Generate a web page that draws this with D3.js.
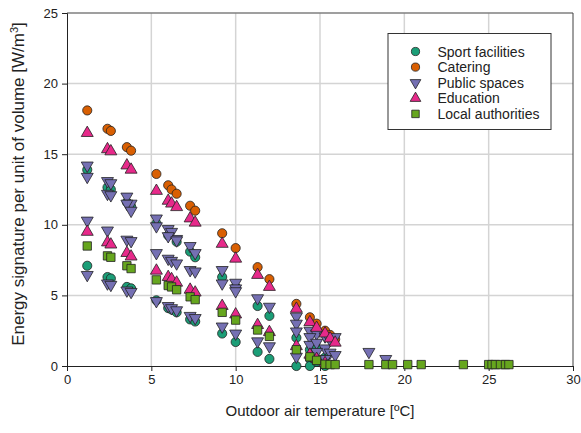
<!DOCTYPE html>
<html><head><meta charset="utf-8">
<script src="https://cdn.jsdelivr.net/npm/d3@7"></script>
<style>body{margin:0;background:#fff;}svg{display:block;font-family:"Liberation Sans",Arial,sans-serif;}</style>
</head><body><svg id="chart" width="581" height="433"></svg>
<script>
const xTicks = [0, 5, 10, 15, 20, 25, 30];
const yTicks = [0, 5, 10, 15, 20, 25];
const seriesNames = ["Sport facilities", "Catering", "Public spaces", "Education", "Local authorities"];

const sportFacilities = [
  [1.2,13.9],[2.4,12.65],[2.6,12.5],[3.55,11.6],[3.8,11.3],[5.3,10.1],[6.0,9.25],[6.5,8.8],[7.3,8.1],[7.6,7.7],
  [9.2,6.3],[10.0,5.6],[11.3,4.25],[12.0,3.55],[13.6,2.0],[14.4,1.15],[14.8,1.25],[15.3,0.6],
  [1.2,7.1],[2.4,6.3],[2.6,6.2],[3.55,5.6],[3.8,5.5],[5.3,4.65],[6.0,4.1],[6.2,4.0],[6.5,3.8],[7.3,3.3],[7.6,3.15],
  [9.2,2.3],[10.0,1.7],[11.3,1.0],[12.0,0.5],[13.6,0.0],[14.4,0.5],[14.4,0.0],[14.8,0.3],[15.3,0.0]
];
const catering = [
  [1.2,18.1],[2.4,16.8],[2.6,16.65],[3.55,15.5],[3.8,15.25],[5.3,13.6],[6.0,12.8],[6.2,12.5],[6.5,12.2],[7.3,11.35],
  [7.6,11.0],[9.2,9.4],[10.0,8.35],[11.3,7.0],[12.0,6.15],[13.6,4.4],[14.4,3.45],[14.8,3.0],[15.3,2.5],[15.6,2.2],[15.9,1.9]
];
const publicSpaces = [
  [1.2,14.2],[2.4,13.1],[2.6,12.95],[3.55,12.0],[3.8,11.5],[5.3,10.45],[6.0,9.7],[6.2,9.5],[6.5,9.0],[7.3,8.5],[7.6,8.0],
  [9.2,6.8],[10.0,5.9],[11.3,4.8],[12.0,4.2],[13.6,3.5],[14.4,2.5],[14.8,2.3],[15.3,2.1],[15.6,1.85],[15.9,2.05],
  [1.2,13.4],[2.4,12.2],[2.6,12.1],[3.55,11.5],[3.8,11.0],[5.3,9.9],[6.0,9.2],[6.5,8.9],[9.2,5.85],[10.0,5.5],[10.0,5.3],[13.6,3.0],[14.4,2.05],
  [1.2,10.3],[2.4,9.6],[3.55,8.95],[3.8,8.85],[5.3,8.0],[6.0,7.6],[6.2,7.45],[6.5,7.27],[7.3,6.8],[7.6,6.7],[13.6,2.45],[14.4,1.5],[14.8,1.65],[15.3,1.25],[15.6,0.95],[15.9,0.78],
  [1.2,6.45],[2.4,5.85],[2.6,5.75],[3.55,5.35],[3.8,5.25],[5.3,4.6],[6.0,4.25],[6.2,4.1],[6.5,3.95],[7.3,3.55],[7.6,3.4],
  [9.2,2.8],[10.0,2.3],[11.3,1.75],[12.0,1.4],[13.6,0.66],[14.8,1.0],[15.3,0.5],[17.9,1.0],[18.9,0.5]
];
const education = [
  [1.2,16.5],[2.4,15.35],[2.6,15.2],[3.55,14.2],[3.8,13.9],[5.3,12.4],[6.0,11.7],[6.2,11.5],[6.5,11.25],[7.3,10.45],[7.6,10.15],
  [9.2,8.65],[10.0,7.6],[11.3,6.45],[12.0,5.6],[13.6,4.05],[14.4,3.1],[14.8,2.7],[15.3,2.3],[15.6,1.95],[15.9,1.65],
  [1.2,9.5],[2.4,8.75],[2.6,8.6],[3.55,8.0],[3.8,7.75],[5.3,6.75],[6.0,6.3],[6.2,6.15],[6.5,5.9],[7.3,5.4],[7.6,5.2],
  [9.2,4.25],[10.0,3.65],[11.3,2.9],[12.0,2.4],[13.6,1.4],[14.4,0.8],[14.8,0.5],[15.3,0.2]
];
const localAuthorities = [
  [1.2,8.5],[2.4,7.8],[2.6,7.7],[3.55,7.1],[3.8,6.9],[5.3,6.1],[6.0,5.7],[6.2,5.6],[6.5,5.4],[7.3,4.9],[7.6,4.7],
  [9.2,3.8],[10.0,3.25],[11.3,2.55],[12.0,2.1],[13.6,1.15],[14.4,0.65],[14.8,0.4],[15.3,0.12],[15.6,0.1],[15.9,0.1],
  [17.9,0.1],[18.9,0.1],[19.3,0.1],[20.2,0.1],[21.0,0.1],[23.5,0.1],[25.0,0.1],[25.2,0.1],[25.4,0.1],[25.7,0.1],[26.0,0.1],[26.2,0.1]
];

const colors = ["#1b9e77", "#d95f02", "#7570b3", "#e7298a", "#66a61e"];
const symbols = [d3.symbolCircle, d3.symbolCircle, d3.symbolTriangle, d3.symbolTriangle, d3.symbolSquare];
const rotations = [0, 0, 180, 0, 0];
const sizes = [66, 66, 62, 62, 70];
const allData = [sportFacilities, catering, publicSpaces, education, localAuthorities];

const svg = d3.select("#chart");
const m = {left: 67, right: 8, top: 13, bottom: 67};
const W = 581, H = 433;
const x = d3.scaleLinear().domain([0, 30]).range([m.left, W - m.right]);
const y = d3.scaleLinear().domain([0, 25]).range([H - m.bottom, m.top]);

// grid
svg.append("g").selectAll("line").data(xTicks.slice(1, -1)).join("line")
  .attr("x1", d => x(d)).attr("x2", d => x(d)).attr("y1", y(0)).attr("y2", y(25))
  .attr("stroke", "#d4d4d4").attr("stroke-width", 1.5);
svg.append("g").selectAll("line").data(yTicks.slice(1, -1)).join("line")
  .attr("y1", d => y(d)).attr("y2", d => y(d)).attr("x1", x(0)).attr("x2", x(30))
  .attr("stroke", "#d4d4d4").attr("stroke-width", 1.5);
// frame top/right
svg.append("line").attr("x1", x(0)).attr("x2", x(30)).attr("y1", y(25)).attr("y2", y(25)).attr("stroke", "#7f7f7f").attr("stroke-width", 1.5);
svg.append("line").attr("x1", x(30)).attr("x2", x(30)).attr("y1", y(25)).attr("y2", y(0)).attr("stroke", "#404040").attr("stroke-width", 1);

// axes
const xAxis = svg.append("g").attr("transform", `translate(0,${y(0)})`)
  .call(d3.axisBottom(x).tickValues(xTicks).tickSize(5).tickPadding(4).tickFormat(d3.format("d")));
const yAxis = svg.append("g").attr("transform", `translate(${x(0)},0)`)
  .call(d3.axisLeft(y).tickValues(yTicks).tickSize(5).tickPadding(4).tickFormat(d3.format("d")));
[xAxis, yAxis].forEach(g => {
  g.select(".domain").attr("stroke", "#222").attr("stroke-width", 1);
  g.selectAll(".tick line").attr("stroke", "#222");
  g.selectAll("text").attr("font-size", 13).attr("fill", "#222").attr("font-family", "Liberation Sans, Arial, sans-serif");
});

// points
allData.forEach((data, i) => {
  const sym = d3.symbol().type(symbols[i]).size(sizes[i]);
  svg.append("g").selectAll("path").data(data).join("path")
    .attr("d", sym)
    .attr("transform", d => `translate(${x(d[0])},${y(d[1])}) rotate(${rotations[i]})`)
    .attr("fill", colors[i]).attr("stroke", "#222").attr("stroke-width", 0.8);
});

// legend
const lg = svg.append("g");
lg.append("rect").attr("x", 388).attr("y", 33.5).attr("width", 163).attr("height", 96)
  .attr("fill", "#fff").attr("stroke", "#333").attr("stroke-width", 1);
seriesNames.forEach((name, i) => {
  const yy = 51.5 + i * 15.6;
  lg.append("path").attr("d", d3.symbol().type(symbols[i]).size(sizes[i] * 0.8)())
    .attr("transform", `translate(415.5,${yy}) rotate(${rotations[i]})`)
    .attr("fill", colors[i]).attr("stroke", "#222").attr("stroke-width", 0.8);
  lg.append("text").attr("x", 437.5).attr("y", yy + 5).attr("font-size", 14).attr("fill", "#222").text(name);
});

// axis titles
svg.append("text").attr("x", (x(0) + x(30)) / 2).attr("y", 416).attr("text-anchor", "middle")
  .attr("font-size", 15).attr("fill", "#222").text("Outdoor air temperature [ºC]");
const yt = svg.append("text").attr("transform", `translate(24,184) rotate(-90)`)
  .attr("text-anchor", "middle").attr("font-size", 17).attr("fill", "#222");
yt.append("tspan").text("Energy signature per unit of volume [W/m");
yt.append("tspan").attr("font-size", 11).attr("dy", -6).text("3");
yt.append("tspan").attr("dy", 6).text("]");
</script></body></html>
